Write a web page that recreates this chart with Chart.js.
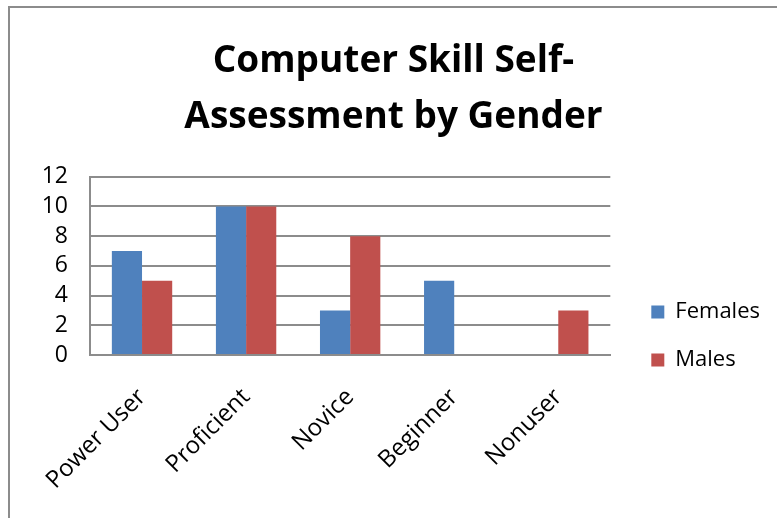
<!DOCTYPE html>
<html>
<head>
<meta charset="utf-8">
<script src="https://cdn.jsdelivr.net/npm/chart.js@4.4.1/dist/chart.umd.min.js"></script>
<style>
  html, body { margin: 0; padding: 0; background: #fff; overflow: hidden; }
  #frame {
    position: absolute; left: 8px; top: 6px; width: 800px; height: 540px;
    border-left: 2px solid #8c8c8c; border-top: 2px solid #8c8c8c;
  }
  #wrap { position: absolute; left: 10px; top: 8px; width: 767px; height: 510px; }
</style>
</head>
<body>
<div id="frame"></div>
<div id="wrap"><canvas id="chart"></canvas></div>
<script>
// chart data
const categories = ['Power User', 'Proficient', 'Novice', 'Beginner', 'Nonuser'];
const females = [7, 10, 3, 5, 0];
const males = [5, 10, 8, 0, 3];
const yTicks = [0, 2, 4, 6, 8, 10, 12];

const fontFamily = "'Open Sans', 'Liberation Sans', sans-serif";

// nudge the legend: wider gap to the plot, items sit lower like Excel
const legendNudge = {
  id: 'legendNudge',
  beforeInit(chart) {
    const lg = chart.legend;
    const fit = lg.fit;
    lg.fit = function () {
      fit.call(this);
      this.width += 22;
    };
  },
  afterLayout(chart) {
    const lg = chart.legend;
    lg.left += 15;
    lg.right += 15;
    lg.top += 73;
    lg.bottom += 73;
  }
};

new Chart(document.getElementById('chart'), {
  type: 'bar',
  data: {
    labels: categories,
    datasets: [
      { label: 'Females', data: females, backgroundColor: '#4F81BD' },
      { label: 'Males', data: males, backgroundColor: '#C0504D' }
    ]
  },
  plugins: [legendNudge],
  options: {
    responsive: true,
    maintainAspectRatio: false,
    animation: false,
    layout: { padding: { left: 0, right: 0, top: 0, bottom: 0 } },
    datasets: { bar: { barPercentage: 1.0, categoryPercentage: 0.58 } },
    plugins: {
      title: {
        display: true,
        text: ['Computer Skill Self-', 'Assessment by Gender'],
        color: '#000',
        font: { family: fontFamily, size: 37, weight: 'bold', lineHeight: 1.51 },
        padding: { top: 26, bottom: 31 }
      },
      legend: {
        position: 'right',
        labels: {
          color: '#000',
          font: { family: fontFamily, size: 22 },
          boxWidth: 13, boxHeight: 13,
          padding: 26
        }
      },
      tooltip: { enabled: false }
    },
    scales: {
      x: {
        afterFit: axis => { axis.height = 163; },
        grid: { display: false, drawTicks: false },
        border: { color: '#8c8c8c', width: 2 },
        ticks: {
          color: '#000',
          font: { family: fontFamily, size: 24 },
          autoSkip: false,
          minRotation: 45, maxRotation: 45,
          padding: 28
        }
      },
      y: {
        min: 0, max: 12,
        afterFit: axis => { axis.width = 80; },
        afterBuildTicks: axis => { axis.ticks = yTicks.map(v => ({ value: v })); },
        grid: { color: '#8c8c8c', lineWidth: 2, drawTicks: false },
        border: { color: '#8c8c8c', width: 2 },
        ticks: {
          color: '#000',
          font: { family: fontFamily, size: 23 },
          autoSkip: false,
          padding: 22
        }
      }
    }
  }
});
</script>
</body>
</html>
